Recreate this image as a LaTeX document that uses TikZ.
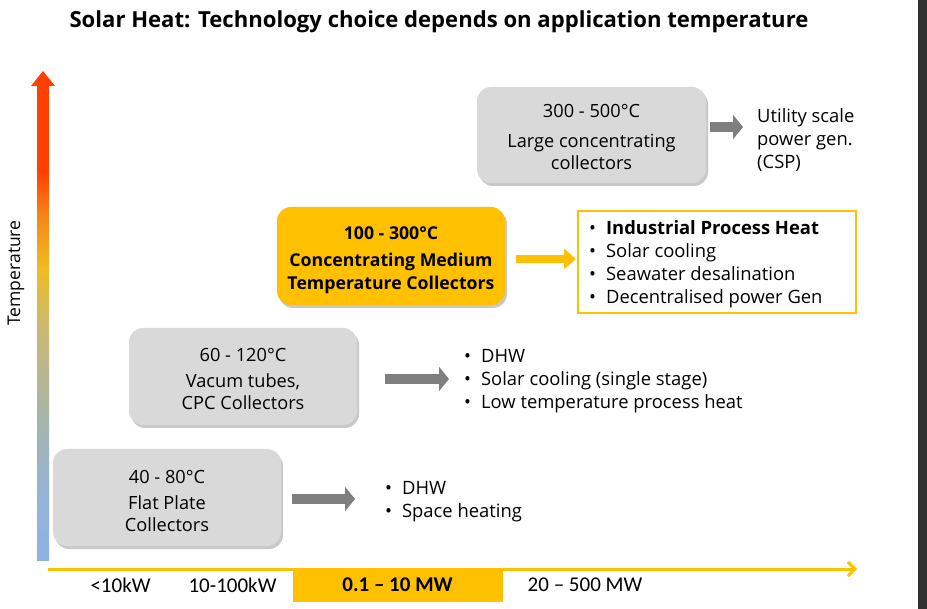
\documentclass[tikz,border=0pt]{standalone}
\usepackage{fontspec}
\setmainfont{Open Sans}
\newfontfamily\carl{Carlito}
\usetikzlibrary{arrows.meta,shadows,calc}
\definecolor{gold}{HTML}{FFC000}
\definecolor{boxgray}{HTML}{D9D9D9}
\definecolor{arrgray}{HTML}{7F7F7F}
\definecolor{darkbar}{HTML}{303030}
\definecolor{tA}{HTML}{8DB3E2}
\definecolor{tB}{HTML}{95B3D6}
\definecolor{tC}{HTML}{AAB5A6}
\definecolor{tD}{HTML}{CBB872}
\definecolor{tE}{HTML}{F0BC20}
\definecolor{tF}{HTML}{F6871A}
\definecolor{tG}{HTML}{FF4000}
\pgfdeclareverticalshading{tempgrad}{100bp}{color(0bp)=(tA); color(25bp)=(tA); color(32bp)=(tB); color(40.8bp)=(tC); color(49.5bp)=(tD); color(55.8bp)=(tE); color(61.1bp)=(tF); color(66bp)=(tG); color(75bp)=(tG); color(100bp)=(tG)}
\tikzset{
  gbox/.style={rounded corners=14pt, fill=boxgray, minimum width=229pt, minimum height=96pt,
    inner sep=0pt,
    drop shadow={shadow xshift=2pt, shadow yshift=-3pt, opacity=0.3, fill=black!70}},
  ybox/.style={gbox, fill=gold},
  btext/.style={inner sep=0pt, font=\fontsize{18.2}{22}\selectfont},
  ytext/.style={inner sep=0pt, font=\bfseries\fontsize{17.7}{23}\selectfont},
  plain/.style={inner sep=0pt, align=left, font=\fontsize{18.4}{23}\selectfont},
  garr/.style={draw=arrgray, line width=10pt, -{Triangle[length=10pt,width=24pt]}},
  yarr/.style={draw=gold, line width=8pt, -{Triangle[length=12pt,width=20pt]}},
  axlab/.style={inner sep=0pt, font=\carl\fontsize{21}{24}\selectfont}
}
\newcommand{\blist}[1]{\begin{tabular}{@{}l@{\hspace{10pt}}l@{}}#1\end{tabular}}
\newcommand{\dn}[1]{\begin{tabular}{@{}c@{}}#1\end{tabular}}
\begin{document}
\begin{tikzpicture}[x=1pt,y=-1pt]
\useasboundingbox (0,0) rectangle (927,609);
\fill[white] (0,0) rectangle (927,609);
\fill[darkbar] (918,0) rectangle (927,609);

% title
\node[inner sep=0pt, font=\bfseries\fontsize{22.1}{26}\selectfont] (title) at (439,22)
  {Solar Heat: Technology choice depends on application temperature};

% temperature axis
\shade[shading=tempgrad] (37,85) rectangle (49,560);
\fill[tG] (31,86) -- (43,71) -- (55,86) -- cycle;
\node[rotate=90, inner sep=0pt, font=\fontsize{17.5}{20}\selectfont] (tlab) at (16,273) {Temperature};

% power axis
\fill[gold] (293,569) rectangle (503,602);
\coordinate (axL) at (48,569);
\coordinate (axR) at (857,569);
\draw[gold, line width=3pt, -{Straight Barb[length=7pt,width=14pt]}] (axL) -- (axR);
\node[axlab] (p1) at (120.5,585) {<10kW};
\node[axlab] (p2) at (232.5,585) {10-100kW};
\node[axlab, font=\carl\bfseries\fontsize{21}{24}\selectfont] (p3) at (397.5,585) {0.1 – 10 MW};
\node[axlab] (p4) at (585,585) {20 – 500 MW};

% boxes
\node[gbox] (b1) at (591.5,135) {};
\node[btext] (b1t) at ($(b1)+(0,4)$) {\dn{300 - 500°C\\[8pt]Large concentrating\\collectors}};
\node[ybox, minimum width=228pt, minimum height=98pt] (yb) at (391,256) {};
\node[ytext] (ybt) at ($(yb)+(0,4)$) {\dn{100 - 300°C\\[4pt]Concentrating Medium\\Temperature Collectors}};
\node[gbox, minimum width=228pt, minimum height=97pt] (b3) at (243,376.5) {};
\node[btext] (b3t) at ($(b3)+(0,5)$) {\dn{60 - 120°C\\[4pt]Vacum tubes,\\CPC Collectors}};
\node[gbox, minimum width=228pt, minimum height=97pt] (b4) at (167,497.5) {};
\node[btext] (b4t) at ($(b4)+(0,5.5)$) {\dn{40 - 80°C\\[4pt]Flat Plate\\Collectors}};

% outputs
\node[plain, anchor=west] (u1) at (757,139.5) {Utility scale\\power gen.\\(CSP)};
\node[draw=gold, line width=2pt, minimum width=278pt, minimum height=102pt, inner sep=0pt] (l2) at (717,262) {};
\node[plain, anchor=west] (l2t) at (589,264)
  {\blist{• & \textbf{Industrial Process Heat}\\ • & Solar cooling\\ • & Seawater desalination\\ • & Decentralised power Gen}};
\node[plain, anchor=west] (l3) at (464,381)
  {\blist{• & DHW\\ • & Solar cooling (single stage)\\ • & Low temperature process heat}};
\node[plain, anchor=west] (l4) at (385,501.5)
  {\blist{• & DHW\\ • & Space heating}};

% connectors
\draw[garr] ($(b1.east)+(4,-8)$) -- ($(u1.west)+(-14,-12.5)$);
\draw[yarr] ($(yb.east)+(11,3)$) -- ($(l2.west)+(-1,-3)$);
\draw[garr] ($(b3.east)+(28,2.5)$) -- ($(l3.west)+(-15,-2)$);
\draw[garr] ($(b4.east)+(11,1.5)$) -- ($(l4.west)+(-30,-2.5)$);
\end{tikzpicture}
\end{document}
